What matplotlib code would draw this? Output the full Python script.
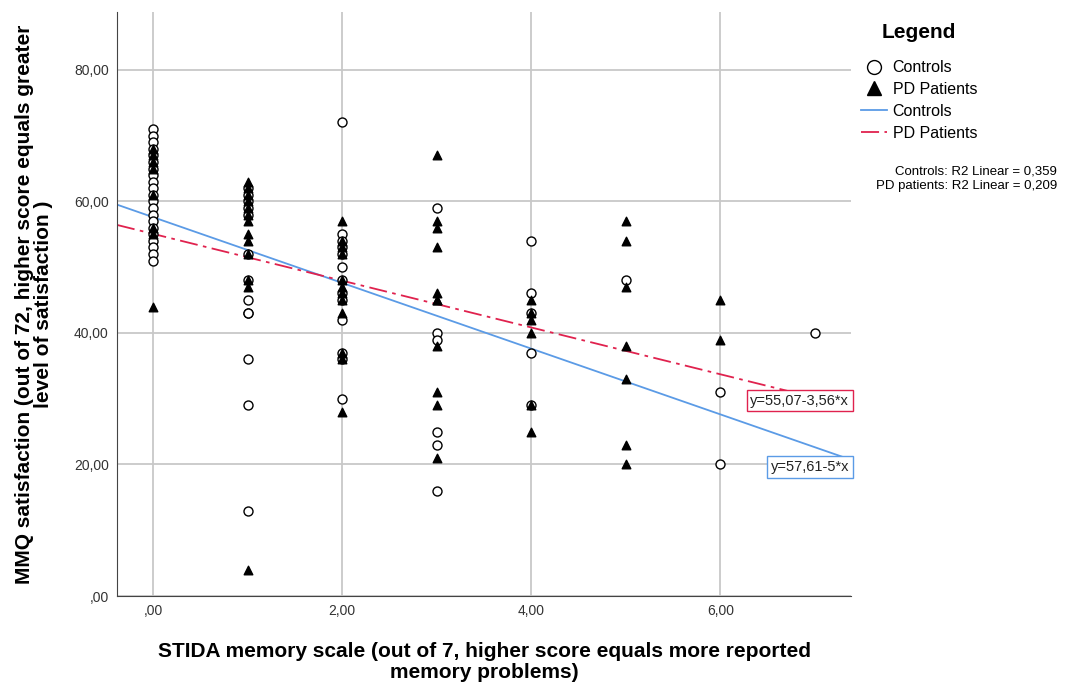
import numpy as np
import matplotlib.pyplot as plt
from matplotlib.lines import Line2D

plt.rcParams['font.family'] = ['Liberation Sans', 'DejaVu Sans']

# Controls: memory score -> satisfaction scores
ctrl_x = [0] * 21 + [1] * 13 + [2] * 13 + [3] * 6 + [4] * 5 + [5] + [6] * 2 + [7]
ctrl_y = [71, 70, 69, 68, 67, 66, 65, 64, 63, 62, 61, 60, 59, 58, 57, 56, 55, 54, 53, 52, 51,
          62, 61, 60, 59, 58, 52, 48, 45, 43, 43, 36, 29, 13,
          72, 55, 54, 53, 52, 50, 48, 46, 45, 42, 37, 36, 30,
          59, 40, 39, 25, 23, 16,
          54, 46, 43, 37, 29,
          48,
          31, 20,
          40]

# PD patients
pd_x = [0] * 8 + [1] * 13 + [2] * 12 + [3] * 11 + [4] * 6 + [5] * 7 + [6] * 2
pd_y = [68, 67, 66, 65, 61, 56, 55, 44,
        63, 62, 61, 60, 59, 58, 57, 55, 54, 52, 48, 47, 4,
        57, 54, 53, 52, 48, 47, 46, 45, 43, 37, 36, 28,
        67, 57, 56, 53, 46, 45, 45, 38, 31, 29, 21,
        45, 43, 42, 40, 29, 25,
        57, 54, 47, 38, 33, 23, 20,
        45, 39]

# fitted lines as reported
ctrl_fit = (57.61, -5.0)
pd_fit = (55.07, -3.56)

xlim = (-0.38, 7.38)

fig = plt.figure(figsize=(10.7, 6.87), dpi=100)
ax = fig.add_axes([117 / 1070, 1 - 596 / 687, (851 - 117) / 1070, (596 - 12) / 687])

ax.scatter(ctrl_x, ctrl_y, s=42, facecolors='white', edgecolors='black', linewidths=1.0, zorder=3)
ax.scatter(pd_x, pd_y, s=38, marker='^', color='black', zorder=4)

xs = np.array(xlim)
ax.plot(xs, ctrl_fit[0] + ctrl_fit[1] * xs, color='#5b9be6', lw=1.3, zorder=2)
ax.plot(xs, pd_fit[0] + pd_fit[1] * xs, color='#e0224e', lw=1.3,
        linestyle=(0, (10, 3, 2, 3)), zorder=2)

ax.text(7.36, pd_fit[0] + pd_fit[1] * 7.12, 'y=55,07-3,56*x', ha='right', va='center', fontsize=10.5,
        color='#222222', bbox=dict(boxstyle='square,pad=0.25', fc='white', ec='#e0224e', lw=1), zorder=5)
ax.text(7.36, 19.6, 'y=57,61-5*x', ha='right', va='center', fontsize=10.5,
        color='#222222', bbox=dict(boxstyle='square,pad=0.25', fc='white', ec='#5b9be6', lw=1), zorder=5)

ax.set_xlim(xlim)
ax.set_ylim(0, 88.8)
ax.set_xticks([0, 2, 4, 6])
ax.set_xticklabels([',00', '2,00', '4,00', '6,00'], fontsize=10)
ax.set_yticks([0, 20, 40, 60, 80])
ax.set_yticklabels([',00', '20,00', '40,00', '60,00', '80,00'], fontsize=10)
ax.grid(True, color='#c8c8c8', lw=1.3)
ax.set_axisbelow(True)
ax.tick_params(length=0, pad=6, colors='#333333')
for side in ['top', 'right']:
    ax.spines[side].set_visible(False)
for side in ['left', 'bottom']:
    ax.spines[side].set_color('#444444')

ax.set_xlabel('STIDA memory scale (out of 7, higher score equals more reported\nmemory problems)',
              fontsize=15, fontweight='bold', labelpad=17, linespacing=1.12)
ax.set_ylabel('MMQ satisfaction (out of 72, higher score equals greater\nlevel of satisfaction )',
              fontsize=15, fontweight='bold', labelpad=15, linespacing=1.0)

fig.text(919 / 1070, 1 - 32 / 687, 'Legend', ha='center', va='center', fontsize=15, fontweight='bold')

handles = [
    Line2D([], [], marker='o', ls='none', mfc='white', mec='black', ms=10),
    Line2D([], [], marker='^', ls='none', color='black', ms=10),
    Line2D([], [], color='#5b9be6', lw=1.3),
    Line2D([], [], color='#e0224e', lw=1.3, linestyle=(0, (10, 3, 2, 3))),
]
labels = ['Controls', 'PD Patients', 'Controls', 'PD Patients']
fig.legend(handles, labels, loc='upper left', bbox_to_anchor=(847 / 1070, 1 - 46 / 687),
           frameon=False, fontsize=11.5, handlelength=1.6, handletextpad=0.35,
           labelspacing=0.42)

fig.text(1057 / 1070, 1 - 179 / 687, 'Controls: R2 Linear = 0,359\nPD patients: R2 Linear = 0,209',
         ha='right', va='center', fontsize=9.5, multialignment='right', linespacing=1.25)

fig.savefig('out.png', dpi=100)
